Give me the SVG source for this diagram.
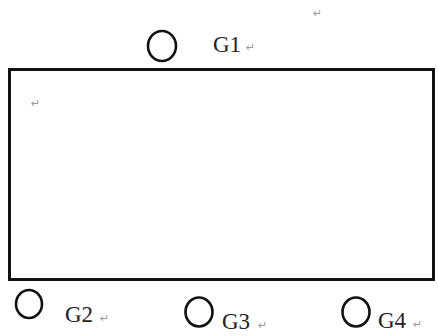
<svg xmlns="http://www.w3.org/2000/svg" width="438" height="336" viewBox="0 0 438 336">
<style>
.c{fill:none;stroke:#111;stroke-width:2.6}
.t{font-family:"Liberation Serif","Times New Roman",serif;font-size:23px;fill:#222}
.m{font-family:"DejaVu Sans",sans-serif;font-size:11px;fill:#999}
</style>
<rect width="438" height="336" fill="#fff"/>
<g id="box">
<rect x="9.5" y="69.5" width="424" height="210" fill="none" stroke="#111" stroke-width="3"/>
<text class="m" x="31" y="107">↵</text>
</g>
<text class="m" x="313" y="17">↵</text>
<g id="G1">
<ellipse class="c" cx="162" cy="46" rx="14" ry="15"/>
<text class="t" x="213" y="52">G1</text>
<text class="m" x="246" y="51">↵</text>
</g>
<g id="G2">
<ellipse class="c" cx="29" cy="304" rx="13" ry="14"/>
<text class="t" x="65" y="322">G2</text>
<text class="m" x="100" y="322">↵</text>
</g>
<g id="G3">
<ellipse class="c" cx="199" cy="312" rx="13.5" ry="14.5"/>
<text class="t" x="222" y="329">G3</text>
<text class="m" x="258" y="329">↵</text>
</g>
<g id="G4">
<ellipse class="c" cx="356" cy="312" rx="13.5" ry="14.5"/>
<text class="t" x="378" y="328">G4</text>
<text class="m" x="413" y="328">↵</text>
</g>
<g id="connectors"/>
</svg>
